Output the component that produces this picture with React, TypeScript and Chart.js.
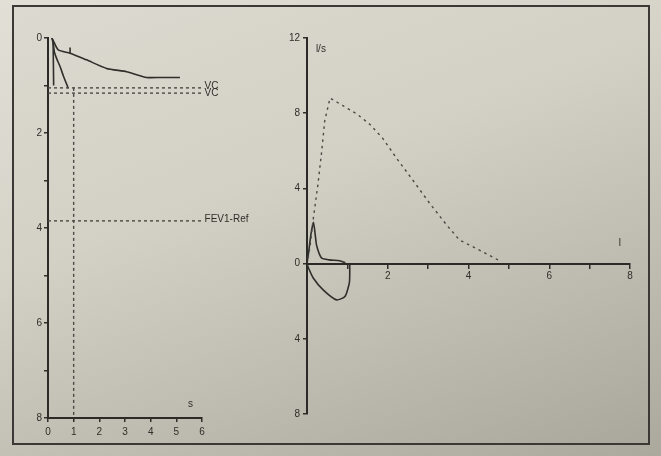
import React, { useEffect, useRef } from "react";
import { Chart, registerables } from "chart.js";
Chart.register(...registerables);

// ---------- Left chart: volume (l) vs time (s) ----------
const vtTicksX = [0, 1, 2, 3, 4, 5, 6];
const vtTimeA = [0.15, 0.2, 0.4, 0.86, 1.5, 2.28, 3.06, 3.84, 4.4, 5.14];
const vtVolA = [0.0, 0.05, 0.25, 0.32, 0.46, 0.64, 0.71, 0.83, 0.83, 0.83];
const vtTimeB = [0.15, 0.2, 0.25, 0.35, 0.47, 0.6, 0.79];
const vtVolB = [0.0, 0.1, 0.3, 0.45, 0.6, 0.8, 1.06];
const vtTimeC = [0.2, 0.22];
const vtVolC = [0.08, 1.0];
const markTime = [0.86, 0.86];
const markVol = [0.2, 0.32];
const vcLevels = [1.05, 1.16];
const fev1Ref = 3.85;
const refTime = 1;
const refLineFrom = 0;
const refLineTo = 6;
const leftLabels = ["VC", "VC", "FEV1-Ref", "s"];
const leftLabelX = [6.1, 6.1, 6.1, 5.45];
const leftLabelY = [1.02, 1.17, 3.82, 7.72];

// ---------- Right chart: flow (l/s) vs volume (l) ----------
const fvRefVol = [0.03, 0.08, 0.15, 0.27, 0.36, 0.44, 0.57, 0.89, 1.24, 1.56, 1.88, 2.22, 2.6, 3.04, 3.46, 3.78, 4.2, 4.77];
const fvRefFlow = [0.3, 1.0, 2.3, 4.2, 5.9, 7.6, 8.8, 8.4, 7.95, 7.4, 6.65, 5.6, 4.5, 3.2, 2.05, 1.25, 0.8, 0.15];
const fvExpVol = [0, 0.04, 0.1, 0.16, 0.2, 0.24, 0.36, 0.55, 0.81, 0.95];
const fvExpFlow = [0, 0.6, 1.6, 2.2, 1.6, 0.95, 0.3, 0.2, 0.15, 0.05];
const fvInsVol = [0, 0.03, 0.15, 0.4, 0.73, 0.94, 1.05, 1.06];
const fvInsFlow = [0, -0.2, -0.75, -1.4, -1.93, -1.75, -1.0, 0];
const rightLabels = ["l/s", "l"];
const rightLabelX = [0.22, 7.72];
const rightLabelY = [11.4, 1.1];

const INK = "#2f2e2a";
const FONT = "'Liberation Sans', Arial, sans-serif";

const pts = (xs: number[], ys: number[]) => xs.map((x, i) => ({ x, y: ys[i] }));

const textPlugin = {
  id: "textMarks",
  afterDatasetsDraw(chart: any, _args: any, opts: any) {
    const { ctx, scales } = chart;
    ctx.save();
    ctx.fillStyle = INK;
    ctx.font = `10px ${FONT}`;
    ctx.textBaseline = "middle";
    ctx.textAlign = "left";
    (opts.items || []).forEach((it: any) => {
      ctx.fillText(it.text, scales.x.getPixelForValue(it.x), scales.y.getPixelForValue(it.y));
    });
    ctx.restore();
  },
};

const solid = (data: any[]) => ({
  data,
  showLine: true,
  pointRadius: 0,
  borderColor: INK,
  borderWidth: 1.6,
  tension: 0.2,
  fill: false,
});
const dashed = (data: any[], dash = [3, 3]) => ({
  data,
  showLine: true,
  pointRadius: 0,
  borderColor: "#4a4945",
  borderWidth: 1.4,
  borderDash: dash,
  tension: 0,
  fill: false,
});

const axisCommon = {
  grid: { display: true, drawOnChartArea: false, drawTicks: true, tickLength: 4, tickColor: INK, lineWidth: 1.5 },
  border: { display: true, color: "#2b2a27", width: 2 },
};

export default function App() {
  const leftRef = useRef<HTMLCanvasElement>(null);
  const rightRef = useRef<HTMLCanvasElement>(null);

  useEffect(() => {
    const left = new Chart(leftRef.current!, {
      type: "scatter",
      data: {
        datasets: [
          dashed(pts([refLineFrom, refLineTo], [vcLevels[0], vcLevels[0]])),
          dashed(pts([refLineFrom, refLineTo], [vcLevels[1], vcLevels[1]])),
          dashed(pts([refLineFrom, refLineTo], [fev1Ref, fev1Ref])),
          dashed(pts([refTime, refTime], [vcLevels[0], 8])),
          solid(pts(vtTimeA, vtVolA)),
          solid(pts(vtTimeB, vtVolB)),
          solid(pts(vtTimeC, vtVolC)),
          solid(pts(markTime, markVol)),
        ] as any,
      },
      options: {
        responsive: false,
        animation: false,
        layout: { padding: { left: 24, right: 63, top: 38, bottom: 14 } },
        plugins: {
          legend: { display: false },
          tooltip: { enabled: false },
          textMarks: {
            items: leftLabels.map((t, i) => ({ text: t, x: leftLabelX[i], y: leftLabelY[i] })),
          },
        } as any,
        scales: {
          x: {
            type: "linear",
            min: vtTicksX[0],
            max: vtTicksX[vtTicksX.length - 1],
            afterFit: (s: any) => { s.height = 24; },
            ticks: { stepSize: 1, padding: 4, color: INK, font: { family: FONT, size: 10 }, maxRotation: 0 },
            ...axisCommon,
          },
          y: {
            type: "linear",
            min: 0,
            max: 8,
            reverse: true,
            afterFit: (s: any) => { s.width = 24; },
            ticks: {
              stepSize: 1,
              padding: 2,
              color: INK,
              font: { family: FONT, size: 10 },
              callback: (v: any) => (Number(v) % 2 === 0 ? String(v) : ""),
            },
            ...axisCommon,
          },
        },
      },
      plugins: [textPlugin],
    });

    const right = new Chart(rightRef.current!, {
      type: "scatter",
      data: {
        datasets: [
          dashed(pts(fvRefVol, fvRefFlow), [2.5, 4]),
          solid(pts(fvExpVol, fvExpFlow)),
          solid(pts(fvInsVol, fvInsFlow)),
        ] as any,
      },
      options: {
        responsive: false,
        animation: false,
        layout: { padding: { left: 20, right: 31, top: 38, bottom: 42 } },
        plugins: {
          legend: { display: false },
          tooltip: { enabled: false },
          textMarks: {
            items: rightLabels.map((t, i) => ({ text: t, x: rightLabelX[i], y: rightLabelY[i] })),
          },
        } as any,
        scales: {
          x: {
            type: "linear",
            min: 0,
            max: 8,
            position: { y: 0 } as any,
            ticks: {
              stepSize: 1,
              padding: 3,
              color: INK,
              font: { family: FONT, size: 10 },
              maxRotation: 0,
              callback: (v: any) => (Number(v) % 2 === 0 && Number(v) !== 0 ? String(v) : ""),
            },
            ...axisCommon,
          },
          y: {
            type: "linear",
            min: -8,
            max: 12,
            afterFit: (s: any) => { s.width = 22; },
            ticks: {
              stepSize: 4,
              padding: 3,
              color: INK,
              font: { family: FONT, size: 10 },
              callback: (v: any) => String(Math.abs(Number(v))),
            },
            ...axisCommon,
          },
        },
      },
      plugins: [textPlugin],
    });

    return () => {
      left.destroy();
      right.destroy();
    };
  }, []);

  return (
    <div
      style={{
        position: "absolute",
        left: 0,
        top: 0,
        width: 661,
        height: 456,
        overflow: "hidden",
        background: "linear-gradient(160deg, #e2dfd7 0%, #d5d2c8 40%, #c0bdb2 70%, #aba89d 100%)",
      }}
    >
      <div
        style={{
          position: "absolute",
          left: 12,
          top: 5,
          width: 634,
          height: 436,
          border: "2px solid #3a3935",
          background: "linear-gradient(160deg, #dcd9d0 0%, #d3d0c6 40%, #bfbcb1 70%, #aaa79c 100%)",
        }}
      />
      <canvas
        ref={leftRef}
        width={265}
        height={456}
        style={{ position: "absolute", left: 0, top: 0, width: 265, height: 456 }}
      />
      <canvas
        ref={rightRef}
        width={396}
        height={456}
        style={{ position: "absolute", left: 265, top: 0, width: 396, height: 456 }}
      />
    </div>
  );
}
